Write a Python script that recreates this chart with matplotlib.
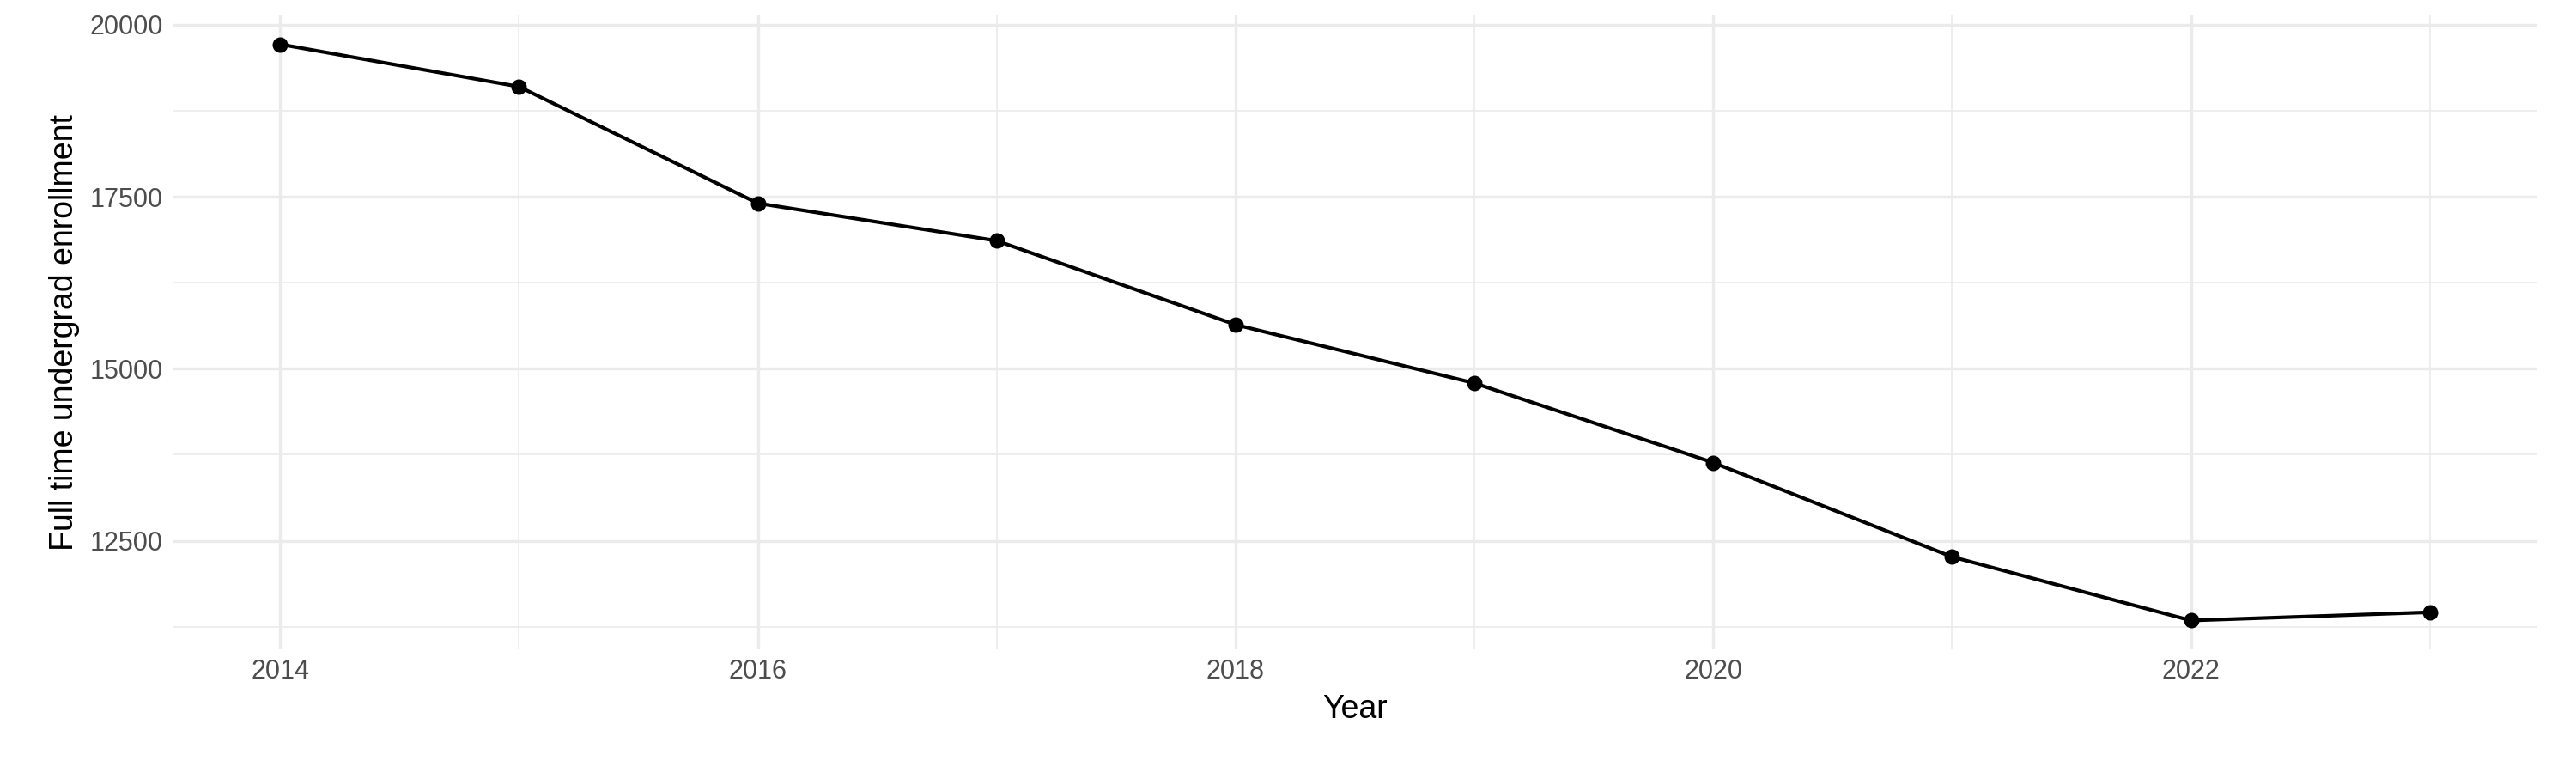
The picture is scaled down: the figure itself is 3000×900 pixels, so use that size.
import matplotlib
matplotlib.use("Agg")
import matplotlib.pyplot as plt

years = [2014, 2015, 2016, 2017, 2018, 2019, 2020, 2021, 2022, 2023]
enrollment = [19716, 19100, 17405, 16860, 15640, 14790, 13635, 12265, 11340, 11460]
yticks = [12500, 15000, 17500, 20000]
xticks = [2014, 2016, 2018, 2020, 2022]

plt.rcParams['font.family'] = ['Liberation Sans', 'DejaVu Sans']
fig = plt.figure(figsize=(15, 4.5), dpi=200)
ax = fig.add_axes([0.067, 0.16, 0.918, 0.82])
ax.plot(years, enrollment, color='black', lw=1.5, zorder=3)
ax.scatter(years, enrollment, color='black', s=30, zorder=4)

span = max(enrollment) - min(enrollment)
ax.set_ylim(min(enrollment) - 0.05 * span, max(enrollment) + 0.05 * span)
ax.set_xlim(years[0] - 0.45, years[-1] + 0.45)
ax.set_yticks(yticks)
ax.set_yticks([11250, 13750, 16250, 18750], minor=True)
ax.set_xticks(xticks)
ax.set_xticks([2015, 2017, 2019, 2021, 2023], minor=True)
ax.grid(True, which='major', color='#ebebeb', lw=1.2)
ax.grid(True, which='minor', color='#ebebeb', lw=0.6)
ax.set_axisbelow(True)
for s in ax.spines.values():
    s.set_visible(False)
ax.tick_params(which='both', length=0, labelsize=11, labelcolor='#4d4d4d', pad=4)
ax.set_xlabel('Year', fontsize=13.5)
ax.set_ylabel('Full time undergrad enrollment', fontsize=13.5)
fig.savefig('out.png')
